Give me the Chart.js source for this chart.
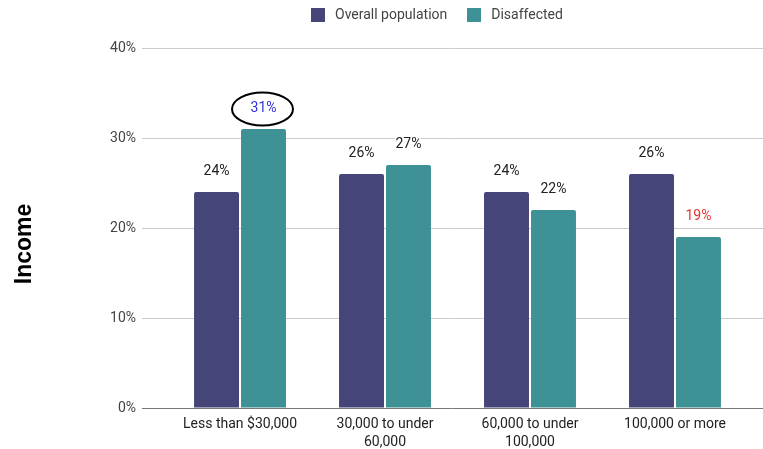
<!DOCTYPE html>
<html>
<head>
<meta charset="utf-8">
<script src="https://cdn.jsdelivr.net/npm/chart.js@4"></script>
<style>
  body { margin: 0; background: #fff; }
  #wrap { position: relative; width: 763px; height: 449px; }
  #legend { position: absolute; top: 7px; left: 311px; display: flex; align-items: center;
            font: 14px Roboto, sans-serif; line-height: 15px; color: #444; }
  .item { display: flex; align-items: center; margin-right: 20px; }
  .swatch { width: 14px; height: 14px; margin-right: 10px; }
</style>
</head>
<body>
<div id="wrap">
  <canvas id="myChart"></canvas>
  <div id="legend"></div>
</div>
<script>
const categories = [
  ['Less than $30,000'],
  ['30,000 to under', '60,000'],
  ['60,000 to under', '100,000'],
  ['100,000 or more']
];
const overall = [24, 26, 24, 26];
const disaffected = [31, 27, 22, 19];
const yTicks = [0, 10, 20, 30, 40];

const PURPLE = '#46457a';
const TEAL = '#3e9194';

// text colour of each value label, per dataset
const labelColors = [
  ['#222', '#222', '#222', '#222'],
  ['#2f2fe0', '#222', '#222', '#e8322f']
];
const circled = { dataset: 1, index: 0 };

const valueLabels = {
  id: 'valueLabels',
  afterDatasetsDraw(chart) {
    const ctx = chart.ctx;
    ctx.save();
    ctx.font = '14px Roboto';
    ctx.textAlign = 'center';
    ctx.textBaseline = 'middle';
    ctx.lineJoin = 'round';
    chart.data.datasets.forEach((ds, di) => {
      chart.getDatasetMeta(di).data.forEach((bar, i) => {
        const y = bar.y - 21;
        const text = ds.data[i].y + '%';
        ctx.strokeStyle = '#fff';
        ctx.lineWidth = 3;
        ctx.strokeText(text, bar.x, y);
        ctx.fillStyle = labelColors[di][i];
        ctx.fillText(text, bar.x, y);
        if (di === circled.dataset && i === circled.index) {
          ctx.beginPath();
          ctx.ellipse(bar.x - 1, y + 1, 30.5, 16.5, 0, 0, Math.PI * 2);
          ctx.strokeStyle = '#000';
          ctx.lineWidth = 2;
          ctx.stroke();
        }
      });
    });
    ctx.restore();
  }
};

const toPoints = arr => arr.map((v, i) => ({ x: i, y: v }));

const data = {
  datasets: [
    { label: 'Overall population', data: toPoints(overall), backgroundColor: PURPLE },
    { label: 'Disaffected', data: toPoints(disaffected), backgroundColor: TEAL }
  ]
};

const config = {
  type: 'bar',
  data: data,
  options: {
    responsive: true,
    maintainAspectRatio: false,
    animation: false,
    layout: { padding: { top: 48, right: 0, bottom: 0, left: 0 } },
    datasets: {
      bar: {
        categoryPercentage: 0.648,
        barPercentage: 0.957,
        borderRadius: { topLeft: 2, topRight: 2 },
        borderSkipped: 'start'
      }
    },
    plugins: { legend: { display: false }, tooltip: { enabled: false } },
    scales: {
      x: {
        type: 'linear',
        offset: false,
        min: -0.676,
        max: 3.607,
        grid: { display: false, drawTicks: false },
        border: { display: false },
        afterBuildTicks: axis => { axis.ticks = categories.map((c, i) => ({ value: i })); },
        ticks: {
          autoSkip: false,
          maxRotation: 0,
          padding: 7,
          color: '#222',
          font: { family: 'Roboto', size: 14, lineHeight: 1.3 },
          callback: v => categories[v]
        },
        afterFit: axis => { axis.height = 41; }
      },
      y: {
        min: yTicks[0],
        max: yTicks[yTicks.length - 1],
        afterBuildTicks: axis => { axis.ticks = yTicks.map(v => ({ value: v })); },
        ticks: {
          padding: 6,
          color: '#444',
          font: { family: 'Roboto', size: 14 },
          callback: v => v + '%'
        },
        grid: {
          drawTicks: false,
          color: c => c.tick && c.tick.value === 0 ? '#777' : '#ccc'
        },
        border: { display: false },
        title: {
          display: true,
          text: 'Income     ',
          color: '#000',
          font: { family: 'Liberation Sans', size: 23, weight: 'bold' },
          padding: { top: 11, bottom: 0 }
        },
        afterFit: axis => { axis.width = 142; }
      }
    }
  },
  plugins: [valueLabels]
};

var myChart = new Chart(document.getElementById('myChart'), config);

// legend drawn as html above the plot
const legend = document.getElementById('legend');
data.datasets.forEach(ds => {
  const item = document.createElement('div');
  item.className = 'item';
  const sw = document.createElement('span');
  sw.className = 'swatch';
  sw.style.background = ds.backgroundColor;
  item.appendChild(sw);
  item.appendChild(document.createTextNode(ds.label));
  legend.appendChild(item);
});
</script>
</body>
</html>
